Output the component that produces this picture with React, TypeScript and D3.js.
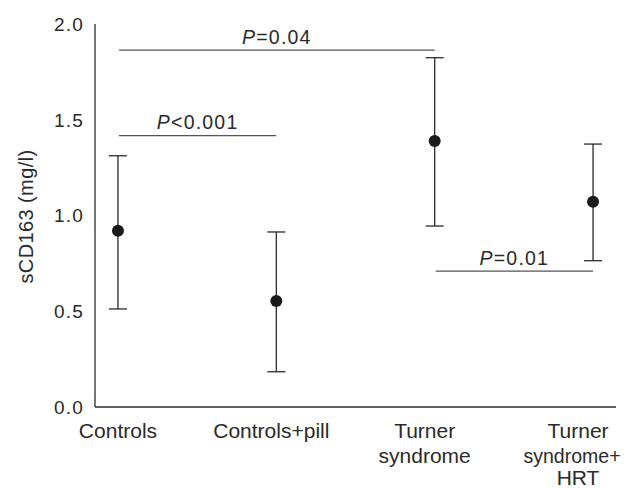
import React from 'react';
import * as d3 from 'd3';

// values (mg/l)
const groups = ['Controls', 'Controls+pill', 'Turner syndrome', 'Turner syndrome+ HRT'];
const groupLines = [['Controls'], ['Controls+pill'], ['Turner', 'syndrome'], ['Turner', 'syndrome+', 'HRT']];
const means = [0.92, 0.553, 1.389, 1.072];
const upper = [1.312, 0.914, 1.824, 1.373];
const lower = [0.512, 0.184, 0.945, 0.764];
const yTicks = [0, 0.5, 1.0, 1.5, 2.0];

// significance brackets: [from group, to group, level, label]
const sigFrom = [0, 0, 2];
const sigTo = [2, 1, 3];
const sigLevel = [1.864, 1.417, 0.71];
const sigText = ['=0.04', '<0.001', '=0.01'];

const width = 632;
const height = 488;
const margin = { top: 24, right: 16, bottom: 81, left: 95 };
const font = '"Liberation Sans", Arial, Helvetica, sans-serif';
const ink = '#2a2a2a';

const App = () => {
  const x = d3.scalePoint()
    .domain(groups)
    .range([margin.left, width - margin.right])
    .padding(0.145);

  // category labels sit on a slightly tighter spacing than the points
  const xLabel = d3.scalePoint()
    .domain(groups)
    .range([x(groups[0]) as number, (x(groups[3]) as number) - 15]);

  const y = d3.scaleLinear()
    .domain([0, 2])
    .range([height - margin.bottom, margin.top]);

  const y0 = y(0);

  return (
    <svg width={width} height={height} style={{ position: 'absolute', left: 0, top: 0, background: '#fff' }}
      fontFamily={font}>
      {/* axes */}
      <line x1={margin.left} x2={margin.left} y1={y(2)} y2={y0} stroke={ink} strokeWidth={1.3} />
      <line x1={margin.left} x2={width - margin.right} y1={y0} y2={y0} stroke={ink} strokeWidth={1.3} />

      {yTicks.map(t => (
        <text key={t} x={margin.left - 11} y={y(t)} dy="0.36em" textAnchor="end"
          fontSize={19} letterSpacing={1.2} fill={ink}>
          {d3.format('.1f')(t)}
        </text>
      ))}

      <text transform={`translate(33,${(y(0) + y(2)) / 2 + 1}) rotate(-90)`} textAnchor="middle"
        fontSize={20} letterSpacing={0.4} fill={ink}>
        sCD163 (mg/l)
      </text>

      {groups.map((g, i) => (
        <text key={g} x={xLabel(g)} y={y0 + 31} textAnchor="middle" fontSize={21} fill={ink}>
          {groupLines[i].map((ln, j) => {
            const tight = i === 3 && ln.endsWith('+');
            return (
              <tspan key={j} x={(xLabel(g) as number) + (tight ? -6 : 0)}
                dy={j === 0 ? 0 : j === 2 ? 22.5 : 24.5}
                fontSize={tight ? 19.5 : 21}>
                {ln}
              </tspan>
            );
          })}
        </text>
      ))}

      {/* error bars */}
      {groups.map((g, i) => {
        const cx = x(g) as number;
        return (
          <g key={g} stroke={ink} strokeWidth={1.3}>
            <line x1={cx} x2={cx} y1={y(upper[i])} y2={y(lower[i])} />
            <line x1={cx - 9} x2={cx + 9} y1={y(upper[i])} y2={y(upper[i])} />
            <line x1={cx - 9} x2={cx + 9} y1={y(lower[i])} y2={y(lower[i])} />
            <circle cx={cx} cy={y(means[i])} r={6} fill="#1a1a1a" stroke="none" />
          </g>
        );
      })}

      {/* significance lines */}
      {sigLevel.map((lv, k) => {
        const xa = (x(groups[sigFrom[k]]) as number) + 1;
        const xb = x(groups[sigTo[k]]) as number;
        return (
          <g key={k}>
            <line x1={xa} x2={xb} y1={y(lv)} y2={y(lv)} stroke="#555" strokeWidth={1.3} />
            <text x={(xa + xb) / 2} y={y(lv) - 6.5} textAnchor="middle" fontSize={19.5}
              letterSpacing={1.2} fill={ink}>
              <tspan fontStyle="italic">P</tspan>{sigText[k]}
            </text>
          </g>
        );
      })}
    </svg>
  );
};

export default App;
